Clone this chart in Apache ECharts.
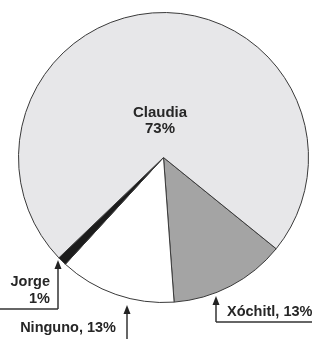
<!DOCTYPE html>
<html>
<head>
<meta charset="utf-8">
<script src="https://cdn.jsdelivr.net/npm/echarts@6/dist/echarts.min.js"></script>
<style>
	html, body { margin: 0; padding: 0; background: #fff; }
	#chart { width: 312px; height: 339px; }
</style>
</head>
<body>
<div id="chart"></div>
<script>
	// datos (orden en sentido horario desde el borde Claudia/Xóchitl)
	var names = ['Xóchitl', 'Ninguno', 'Jorge', 'Claudia'];
	var values = [13, 13, 1, 73];
	var colors = ['#a4a4a4', '#ffffff', '#1c1c1c', '#e7e7e9'];

	var font = 'Liberation Sans, Arial, sans-serif';
	var ink = '#262626';

	var chart = echarts.init(document.getElementById('chart'));

	var pieData = names.map(function (n, i) {
		var item = { name: n, value: values[i], itemStyle: { color: colors[i] } };
		if (n === 'Claudia') {
			// etiqueta dentro del sector grande, desplazada hacia arriba
			item.label = {
				show: true,
				position: 'center',
				formatter: '{t|{b}}\n{t|{c}%}\n{s| }',
				rich: {
					t: {
						fontFamily: font,
						fontWeight: 'bold',
						fontSize: 15,
						lineHeight: 16,
						color: ink,
						padding: [0, 7, 0, 0]
					},
					s: { fontSize: 1, lineHeight: 73 }
				}
			};
		}
		return item;
	});

	// flecha vertical con punta
	function arrow(x, yTip, yEnd) {
		return [{
			type: 'line',
			shape: { x1: x, y1: yTip + 6, x2: x, y2: yEnd },
			style: { stroke: '#333', lineWidth: 1.5 }
		}, {
			type: 'polygon',
			shape: { points: [[x, yTip], [x - 3.5, yTip + 9], [x + 3.5, yTip + 9]] },
			style: { fill: '#222' }
		}];
	}

	function txt(x, y, s, align) {
		return {
			type: 'text',
			x: x, y: y,
			style: {
				text: s, fill: ink, font: 'bold 14.5px ' + font,
				align: align, verticalAlign: 'middle', lineHeight: 17
			}
		};
	}

	var graphics = []
		// Jorge
		.concat(arrow(58, 260, 309))
		.concat([{ type: 'line', shape: { x1: 0, y1: 309, x2: 58, y2: 309 }, style: { stroke: '#333', lineWidth: 1.5 } }])
		.concat([txt(50, 282, 'Jorge', 'right'), txt(50, 299, values[2] + '%', 'right')])
		// Ninguno
		.concat(arrow(127, 305, 339))
		.concat([txt(116, 328, names[1] + ', ' + values[1] + '%', 'right')])
		// Xóchitl
		.concat(arrow(216, 296, 322))
		.concat([{ type: 'line', shape: { x1: 216, y1: 322, x2: 312, y2: 322 }, style: { stroke: '#333', lineWidth: 1.5 } }])
		.concat([txt(227, 312, names[0] + ', ' + values[0] + '%', 'left')]);

	var option = {
		backgroundColor: '#fff',
		animation: false,
		series: [{
			type: 'pie',
			center: [163.5, 157.5],
			radius: 145,
			startAngle: -39,
			clockwise: true,
			silent: true,
			label: { show: false },
			labelLine: { show: false },
			itemStyle: { borderColor: '#3a3a3a', borderWidth: 1 },
			data: pieData
		}],
		graphic: graphics
	};

	chart.setOption(option);
</script>
</body>
</html>
